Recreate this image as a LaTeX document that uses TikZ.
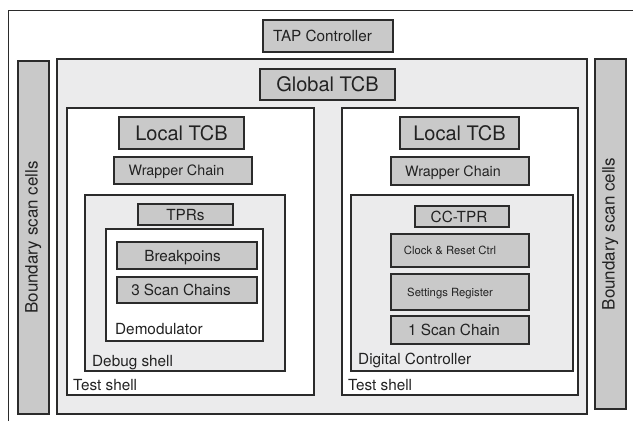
\documentclass[tikz,border=0pt]{standalone}
\usepackage{fontspec}
\setmainfont{TeX Gyre Heros}
\definecolor{boxgray}{HTML}{C9C9C9}
\definecolor{bggray}{HTML}{EBEBEC}
\definecolor{edge}{HTML}{2B2B2B}
\definecolor{ink}{HTML}{222222}
\tikzset{
  block/.style={draw=edge, line width=1.2bp, fill=boxgray, text=ink, inner sep=0pt, text depth=0pt},
  area/.style={draw=edge, line width=1.2bp, inner sep=0pt},
  fL/.style={font=\fontsize{20bp}{24bp}\selectfont, text height=14.3bp},
  fM/.style={font=\fontsize{15.3bp}{18bp}\selectfont, text height=11bp},
  fW/.style={font=\fontsize{14.3bp}{17bp}\selectfont, text height=10.2bp},
  fS/.style={font=\fontsize{11.3bp}{13bp}\selectfont, text height=8.1bp},
  fB/.style={font=\fontsize{17bp}{20bp}\selectfont, text height=12.2bp},
  lbl/.style={font=\fontsize{15.3bp}{18bp}\selectfont, text=ink, inner sep=0pt, anchor=base west},
}
\begin{document}
\begin{tikzpicture}[x=1bp, y=-1bp]
\useasboundingbox (0,0) rectangle (633,421);
\fill[white] (0,0) rectangle (633,421);
% outer frame (cut off at right and bottom)
\draw[edge, line width=1bp] (8,421) -- (8,10) -- (633,10);

% large areas
\node[area, fill=bggray, minimum width=530bp, minimum height=355bp] (global) at (322,236.5) {};
\node[block, fB, rotate=90, text depth=4bp, minimum width=353bp, minimum height=31bp] (bscL) at (33.5,237.5) {Boundary scan cells};
\node[block, fB, rotate=90, text depth=4bp, minimum width=350bp, minimum height=31bp] (bscR) at (610.5,234) {Boundary scan cells};
\node[area, fill=white, minimum width=247bp, minimum height=287bp] (testL) at (190.5,251.5) {};
\node[area, fill=white, minimum width=236bp, minimum height=287bp] (testR) at (460,251.5) {};

% top
\node[block, fM, minimum width=130bp, minimum height=32bp] (tap) at (328,36) {TAP Controller\hspace*{11bp}};
\node[block, fL, minimum width=135bp, minimum height=31bp] (gtcb) at (327.5,84.5) {Global TCB};

% left test shell
\node[block, fL, minimum width=125bp, minimum height=32bp] (ltcbL) at (181.5,133) {Local TCB};
\node[block, fW, minimum width=138bp, minimum height=27bp] (wrapL) at (183,170.5) {Wrapper Chain\hspace*{13bp}};
\node[area, fill=bggray, minimum width=200bp, minimum height=176bp] (debug) at (185,283) {};
\node[block, fM, minimum width=95bp, minimum height=21bp] (tprs) at (185.5,214.5) {TPRs};
\node[area, fill=white, minimum width=157bp, minimum height=112bp] (demod) at (184.5,285) {};
\node[block, fM, minimum width=140bp, minimum height=27bp] (bp) at (187,255.5) {Breakpoins\hspace*{9bp}};
\node[block, fM, minimum width=140bp, minimum height=26bp] (sc3) at (187,290) {3 Scan Chains\hspace*{12bp}};
\node[lbl] (demodlbl) at (115,334) {Demodulator};
\node[lbl] (debuglbl) at (92,366) {Debug shell};
\node[lbl] (testLlbl) at (73,390) {Test shell};

% right test shell
\node[block, fL, minimum width=119bp, minimum height=32bp] (ltcbR) at (459.5,133) {Local TCB};
\node[block, fW, minimum width=138bp, minimum height=28bp] (wrapR) at (460,171) {Wrapper Chain\hspace*{14bp}};
\node[area, fill=bggray, minimum width=222bp, minimum height=176bp] (dig) at (462,283) {};
\node[block, fM, minimum width=94bp, minimum height=21bp] (cctpr) at (462,216.5) {CC-TPR\hspace*{6bp}};
\node[block, fS, minimum width=138bp, minimum height=33bp] (clk) at (460,250.5) {Clock \& Reset Ctrl\hspace*{20bp}};
\node[block, fS, minimum width=138bp, minimum height=36bp] (setreg) at (460,292) {Settings Register\hspace*{20bp}};
\node[block, fM, minimum width=138bp, minimum height=28bp] (sc1) at (460,330) {1 Scan Chain\hspace*{12bp}};
\node[lbl] (diglbl) at (358,364) {Digital Controller};
\node[lbl] (testRlbl) at (348,390) {Test shell};
\end{tikzpicture}
\end{document}
